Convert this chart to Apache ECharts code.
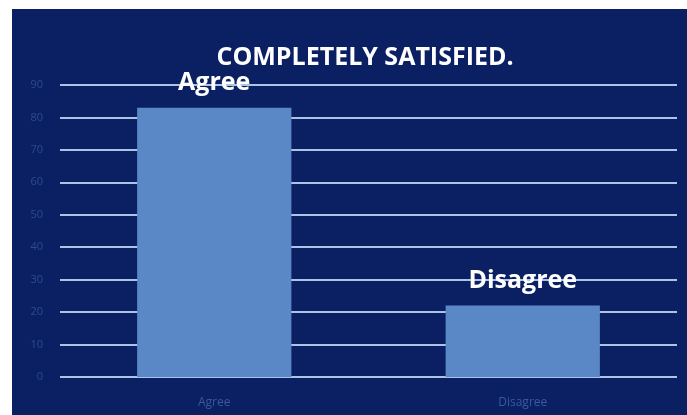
<!DOCTYPE html>
<html>
<head>
<meta charset="utf-8">
<script src="https://cdn.jsdelivr.net/npm/echarts@6/dist/echarts.min.js"></script>
<style>
  html, body { margin: 0; padding: 0; background: #ffffff; }
  #chart { position: absolute; left: 12px; top: 9px; width: 675px; height: 406px; }
</style>
</head>
<body>
<div id="chart"></div>
<script>
// Survey answers to "completely satisfied"
const categories = ['Agree', 'Disagree'];
const values = [83, 22];
const chartTitle = 'COMPLETELY SATISFIED.';

const chart = echarts.init(document.getElementById('chart'));

chart.setOption({
  backgroundColor: '#0a2062',
  animation: false,
  graphic: [{
    type: 'text',
    x: 353,
    y: 48.5,
    style: {
      text: chartTitle,
      fill: '#ffffff',
      font: 'bold 25px "Open Sans", sans-serif',
      align: 'center',
      verticalAlign: 'middle'
    }
  }],
  grid: { left: 48, right: 10, top: 76, bottom: 38 },
  xAxis: {
    type: 'category',
    data: categories,
    axisLine: { show: false },
    axisTick: { show: false },
    axisLabel: {
      color: '#3b5a9c',
      fontSize: 12,
      margin: 20,
      fontFamily: '"Open Sans", sans-serif'
    }
  },
  yAxis: {
    type: 'value',
    min: 0,
    max: 90,
    interval: 10,
    axisLine: { show: false },
    axisTick: { show: false },
    axisLabel: {
      color: '#2f4c88',
      fontSize: 11,
      margin: 17,
      fontFamily: '"Open Sans", sans-serif'
    },
    splitLine: { lineStyle: { color: '#acc3e8', width: 2 } }
  },
  series: [{
    type: 'bar',
    data: values,
    barCategoryGap: '50%',
    itemStyle: { color: '#5a87c5' },
    label: {
      show: true,
      position: 'top',
      distance: 12,
      formatter: '{b}',
      color: '#ffffff',
      fontSize: 25,
      fontWeight: 'bold',
      fontFamily: '"Open Sans", sans-serif'
    }
  }]
});
</script>
</body>
</html>
